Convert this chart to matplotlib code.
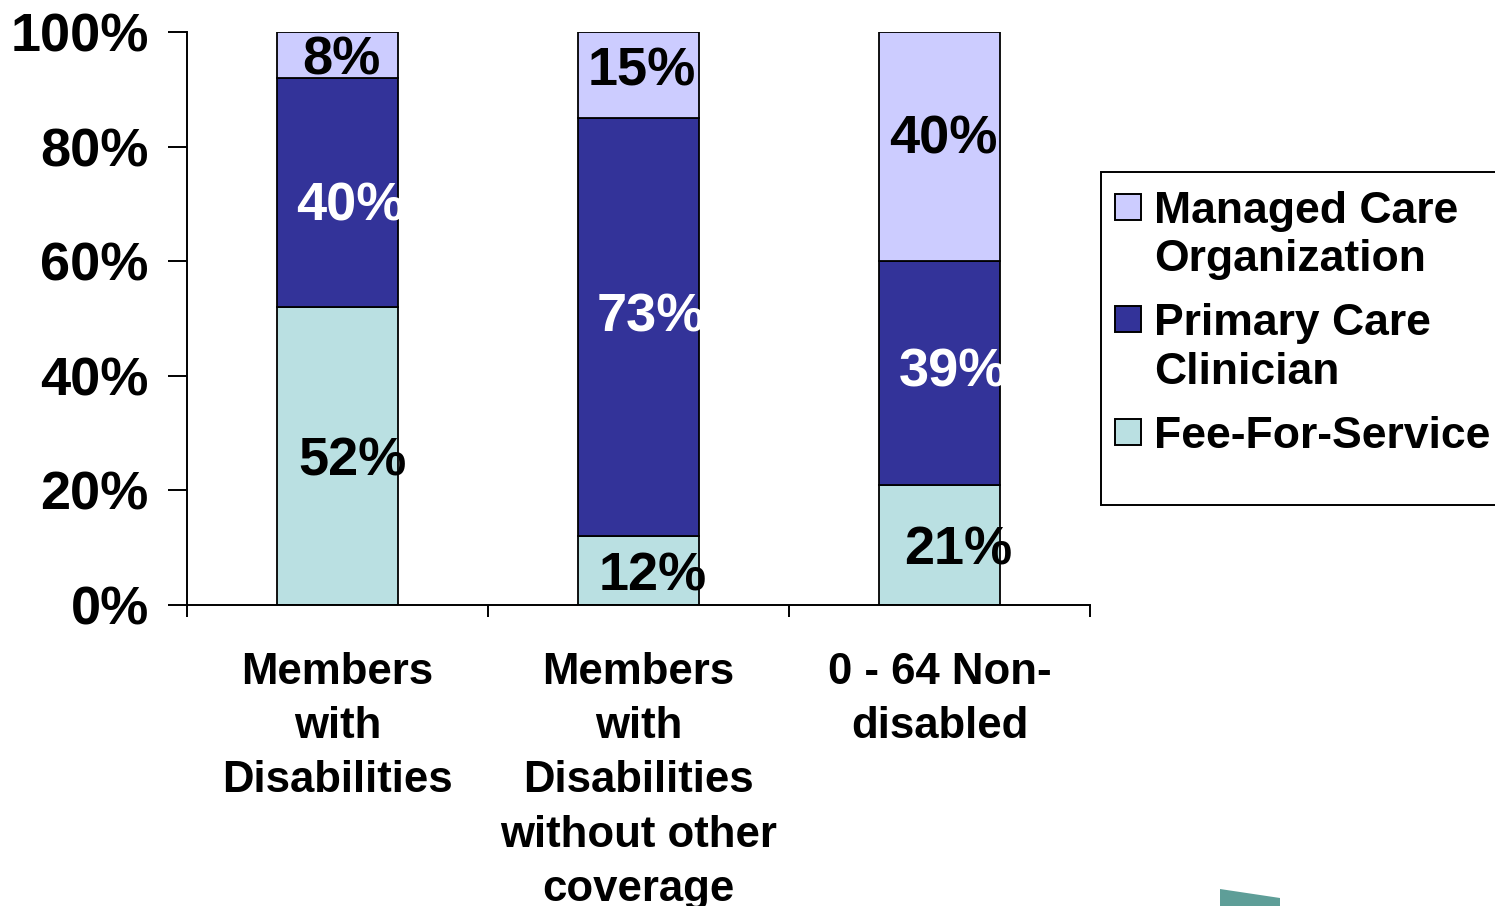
import matplotlib
matplotlib.use("Agg")
import matplotlib.pyplot as plt
from matplotlib.patches import Rectangle, Polygon
import numpy as np

plt.rcParams['font.family'] = ['Liberation Sans', 'DejaVu Sans']
plt.rcParams['font.weight'] = 'bold'

categories = ["Members\nwith\nDisabilities",
              "Members\nwith\nDisabilities\nwithout other\ncoverage",
              "0 - 64 Non-\ndisabled"]
series_names = ["Fee-For-Service", "Primary Care\nClinician", "Managed Care\nOrganization"]
fee_for_service = [52, 12, 21]
primary_care = [40, 73, 39]
managed_care = [8, 15, 40]
y_ticks = [0, 20, 40, 60, 80, 100]
y_tick_labels = ["0%", "20%", "40%", "60%", "80%", "100%"]

colors = ["#BAE0E2", "#333399", "#CCCCFF"]
label_colors = ["black", "white", "black"]

W, H, DPI = 1495, 906, 100
PX = 72 / DPI  # points per pixel

# nudges of the value labels from the segment centre, in pixels (right, up)
label_dx = [[15, 13, 4], [14, 12, 3], [19, 13, 4]]
label_dy = [[0, -9, 0], [0, 15, 9], [0, 6, 12]]
VALUE_FS = 39
digit_half = 0.716 * VALUE_FS / PX / 2

fig = plt.figure(figsize=(W / DPI, H / DPI), dpi=DPI)
ax = fig.add_axes([187 / W, 1 - 605 / H, (1090 - 187) / W, (605 - 32) / H])

x = np.arange(len(categories))
series = [fee_for_service, primary_care, managed_care]
bottom = np.zeros(len(categories))
for vals, col in zip(series, colors):
    ax.bar(x, vals, width=0.405, bottom=bottom, color=col,
           edgecolor="black", linewidth=1.3)
    bottom = bottom + np.array(vals)

# value labels in the middle of each segment
bottom = np.zeros(len(categories))
for si, (vals, tcol) in enumerate(zip(series, label_colors)):
    for i, v in enumerate(vals):
        ax.annotate(f"{v}%", (x[i], bottom[i] + v / 2),
                    xytext=(label_dx[i][si] * PX, (label_dy[i][si] - digit_half) * PX),
                    textcoords="offset points", ha="center", va="baseline",
                    fontsize=VALUE_FS, fontweight="bold", color=tcol)
    bottom = bottom + np.array(vals)

ax.set_xlim(-0.5, 2.5)
ax.set_ylim(0, 100)
ax.set_yticks(y_ticks)
ax.set_yticklabels(y_tick_labels, fontsize=39, fontweight="bold")
ax.tick_params(axis="y", direction="out", length=13.5, width=1.4, pad=14)

ax.set_xticks(x)
ax.set_xticklabels(categories, fontsize=31.5, fontweight="bold", linespacing=1.42)
ax.tick_params(axis="x", which="major", length=0, pad=33.5)
ax.set_xticks([-0.5, 0.5, 1.5, 2.5], minor=True)
ax.tick_params(axis="x", which="minor", direction="out", length=8.5, width=1.4)

for s in ["top", "right"]:
    ax.spines[s].set_visible(False)
for s in ["left", "bottom"]:
    ax.spines[s].set_linewidth(1.4)

# legend box, drawn in figure pixels
def fx(px):
    return px / W


def fy(py):
    return 1 - py / H


fig.patches.append(Rectangle((fx(1101), fy(505)), fx(1510) - fx(1101), fy(172) - fy(505),
                             transform=fig.transFigure, facecolor="white",
                             edgecolor="black", linewidth=1.4, zorder=5))
legend_order = [2, 1, 0]
baseline = 223
line_step = 48.5
entry_gap = 15.5
for k in legend_order:
    name = series_names[k]
    n_lines = name.count("\n") + 1
    sq_top = baseline - 29
    fig.patches.append(Rectangle((fx(1115), fy(sq_top + 26)), 26 / W, 26 / H,
                                 transform=fig.transFigure, facecolor=colors[k],
                                 edgecolor="black", linewidth=1.4, zorder=6))
    for j, line in enumerate(name.split("\n")):
        fig.text(fx(1154), fy(baseline + j * line_step), line, fontsize=32,
                 fontweight="bold", ha="left", va="baseline", zorder=7)
    baseline += n_lines * line_step + entry_gap

# slide decoration at the lower edge
fig.patches.append(Polygon([[fx(1220), fy(889)], [fx(1280), fy(898)],
                            [fx(1280), 0], [fx(1220), 0]],
                           closed=True, transform=fig.transFigure,
                           facecolor="#5E9E98", edgecolor="none"))

fig.savefig("out.png", dpi=DPI)
